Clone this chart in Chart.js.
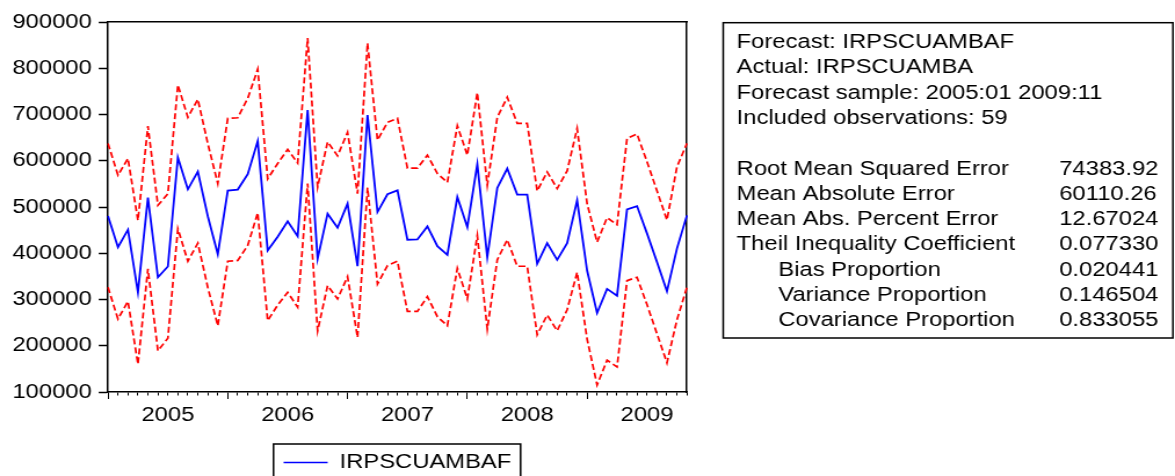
<!DOCTYPE html>
<html>
<head>
<meta charset="utf-8">
<script src="https://cdn.jsdelivr.net/npm/chart.js@4"></script>
<style>
  html, body { margin: 0; padding: 0; background: #fff; overflow: hidden; }
  #wrap { width: 1175px; height: 476px; overflow: hidden; }
  /* the figure is drawn on a narrower canvas and widened horizontally */
  #c { display: block; transform: scaleX(1.15992); transform-origin: 0 0; }
</style>
</head>
<body>
<div id="wrap"><canvas id="c" width="1013" height="476"></canvas></div>
<script>
// Monthly forecast periods, 2005:01 - 2009:11
const periods = [
  '2005:01','2005:02','2005:03','2005:04','2005:05','2005:06','2005:07','2005:08','2005:09','2005:10','2005:11','2005:12',
  '2006:01','2006:02','2006:03','2006:04','2006:05','2006:06','2006:07','2006:08','2006:09','2006:10','2006:11','2006:12',
  '2007:01','2007:02','2007:03','2007:04','2007:05','2007:06','2007:07','2007:08','2007:09','2007:10','2007:11','2007:12',
  '2008:01','2008:02','2008:03','2008:04','2008:05','2008:06','2008:07','2008:08','2008:09','2008:10','2008:11','2008:12',
  '2009:01','2009:02','2009:03','2009:04','2009:05','2009:06','2009:07','2009:08','2009:09','2009:10','2009:11'
];
const yearLabels = ['2005', '2006', '2007', '2008', '2009'];

// Forecast IRPSCUAMBAF
const forecast = [
  480400, 413100, 450900, 315500, 520300, 348000, 371300, 607100, 538300, 576700, 480000, 398000,
  535500, 537700, 570900, 642500, 405900, 435600, 469200, 437000, 709700, 388000, 485600, 455200,
  507300, 371900, 698900, 489100, 527500, 536000, 429200, 429800, 458000, 415300, 396600, 521600,
  456600, 592600, 391500, 541200, 583200, 526800, 526800, 377100, 421800, 385800, 421800, 514500,
  362600, 270800, 322900, 308300, 494900, 502000, 443000, 381000, 317700, 410000, 481900
];
// Forecast + 2 S.E.
const upperBand = [
  637500, 568700, 604900, 471000, 675000, 503600, 528900, 764000, 693900, 732900, 637000, 550700,
  691700, 693000, 735100, 798000, 561000, 594100, 624500, 595000, 865300, 543300, 641000, 610600,
  661400, 529000, 854400, 644600, 683000, 691700, 583900, 583900, 612100, 572400, 552900, 675700,
  612100, 747300, 547000, 693900, 737300, 680900, 680900, 534600, 576000, 539900, 578000, 670000,
  507300, 424000, 476900, 461700, 648300, 657700, 598000, 535000, 472000, 586700, 637500
];
// Forecast - 2 S.E.
const lowerBand = [
  326400, 257800, 296000, 160000, 366300, 189000, 216500, 453000, 382800, 421800, 326000, 243200,
  382800, 384300, 416800, 487500, 254100, 288000, 315500, 283500, 550700, 232400, 330000, 301200,
  349600, 217900, 542000, 333700, 373400, 382800, 274300, 274300, 306200, 262800, 243200, 367600,
  301200, 438500, 236000, 385800, 429200, 371900, 371900, 223700, 266500, 232400, 277900, 358900,
  214400, 115200, 168800, 154300, 340900, 348100, 289000, 226000, 163000, 256000, 326400
];

// Forecast evaluation summary
const headerLines = [
  'Forecast: IRPSCUAMBAF',
  'Actual: IRPSCUAMBA',
  'Forecast sample: 2005:01 2009:11',
  'Included observations: 59'
];
const statNames = [
  'Root Mean Squared Error',
  'Mean Absolute Error',
  'Mean Abs. Percent Error',
  'Theil Inequality Coefficient',
  'Bias Proportion',
  'Variance Proportion',
  'Covariance Proportion'
];
const statValues = ['74383.92', '60110.26', '12.67024', '0.077330', '0.020441', '0.146504', '0.833055'];
const indentedStats = ['Bias Proportion', 'Variance Proportion', 'Covariance Proportion'];

const FONT_FAMILY = "'Liberation Sans', Arial, Helvetica, sans-serif";
const FONT_SIZE = 20.5;
const PLOT_LEFT = 93.1;
const PLOT_RIGHT = 592.2;
const CANVAS_W = 1013;

Chart.defaults.font.family = FONT_FAMILY;
Chart.defaults.font.size = FONT_SIZE;
Chart.defaults.color = '#000';

// Summary table to the right and the frame around the legend
const summaryPanel = {
  id: 'summaryPanel',
  afterDraw(chart) {
    const ctx = chart.ctx;
    ctx.save();
    ctx.strokeStyle = '#000';
    ctx.lineWidth = 1.5;
    ctx.strokeRect(623.5, 22.7, 387.7, 315.3);

    ctx.fillStyle = '#000';
    ctx.font = FONT_SIZE + 'px ' + FONT_FAMILY;
    ctx.textBaseline = 'alphabetic';
    ctx.textAlign = 'left';
    const step = 25.3;
    let y = 48;
    headerLines.forEach(t => { ctx.fillText(t, 635.1, y); y += step; });
    y += step;
    statNames.forEach((name, k) => {
      const x = indentedStats.includes(name) ? 671 : 635.1;
      ctx.fillText(name, x, y);
      ctx.fillText(statValues[k], 913.2, y);
      y += step;
    });

    const hb = chart.legend && chart.legend.legendHitBoxes && chart.legend.legendHitBoxes[0];
    if (hb) {
      const l = hb.left - 8.7;
      const r = hb.left + hb.width + 8;
      ctx.beginPath();
      ctx.moveTo(l, 480);
      ctx.lineTo(l, 444);
      ctx.lineTo(r, 444);
      ctx.lineTo(r, 480);
      ctx.stroke();
    }
    ctx.restore();
  }
};

new Chart(document.getElementById('c'), {
  type: 'line',
  data: {
    labels: periods,
    datasets: [
      {
        label: 'IRPSCUAMBAF',
        data: forecast,
        borderColor: '#0000ff',
        backgroundColor: '#0000ff',
        borderWidth: 1.8,
        pointRadius: 0,
        tension: 0
      },
      {
        label: 'upper',
        data: upperBand,
        borderColor: '#ff0000',
        borderWidth: 1.7,
        borderDash: [6, 3],
        pointRadius: 0,
        tension: 0
      },
      {
        label: 'lower',
        data: lowerBand,
        borderColor: '#ff0000',
        borderWidth: 1.7,
        borderDash: [6, 3],
        pointRadius: 0,
        tension: 0
      }
    ]
  },
  options: {
    responsive: false,
    devicePixelRatio: 1,
    animation: false,
    // the legend row runs past the lower edge of the canvas, as its frame does
    layout: { padding: { left: 0, right: CANVAS_W - PLOT_RIGHT, top: 22, bottom: -6.75 } },
    plugins: {
      tooltip: { enabled: false },
      legend: {
        position: 'bottom',
        fullSize: false,
        labels: {
          boxWidth: 38,
          boxHeight: 1.6,
          padding: 3,
          color: '#000',
          font: { size: FONT_SIZE },
          generateLabels(chart) {
            const items = Chart.defaults.plugins.legend.labels.generateLabels(chart);
            return items
              .filter(it => it.datasetIndex === 0)
              .map(it => Object.assign({}, it, { lineWidth: 0, fillStyle: '#0000ff', strokeStyle: '#0000ff', lineDash: [] }));
          }
        }
      }
    },
    scales: {
      x: {
        type: 'category',
        position: 'bottom',
        offset: false,
        border: { display: true, color: '#000', width: 1.5 },
        grid: {
          display: true,
          offset: false,
          drawOnChartArea: false,
          drawTicks: true,
          tickLength: 7,
          tickColor: '#000',
          tickWidth: 1,
          tickBorderDash: ctx => (ctx.index % 12 === 0 ? [] : [3, 50])
        },
        ticks: {
          autoSkip: false,
          maxRotation: 0,
          minRotation: 0,
          padding: 4,
          color: '#000',
          font: { size: FONT_SIZE },
          callback: (value, index) => (index % 12 === 6 ? yearLabels[(index - 6) / 12] : '')
        },
        afterFit: s => { s.height = 57.25; }
      },
      y: {
        position: 'left',
        min: 100000,
        max: 900000,
        border: { display: true, color: '#000', width: 1.5 },
        grid: { drawOnChartArea: false, tickLength: 8, tickColor: '#000', tickWidth: 1.5 },
        ticks: {
          stepSize: 100000,
          padding: 6,
          color: '#000',
          font: { size: FONT_SIZE },
          callback: v => String(v)
        },
        afterFit: s => { s.width = PLOT_LEFT; }
      },
      xTop: {
        type: 'linear',
        position: 'top',
        display: true,
        border: { display: true, color: '#000', width: 1.5 },
        grid: { display: false, drawTicks: false, drawOnChartArea: false },
        ticks: { display: false }
      },
      yRight: {
        type: 'linear',
        position: 'right',
        display: true,
        border: { display: true, color: '#000', width: 1.5 },
        grid: { display: false, drawTicks: false, drawOnChartArea: false },
        ticks: { display: false }
      }
    }
  },
  plugins: [summaryPanel]
});
</script>
</body>
</html>
